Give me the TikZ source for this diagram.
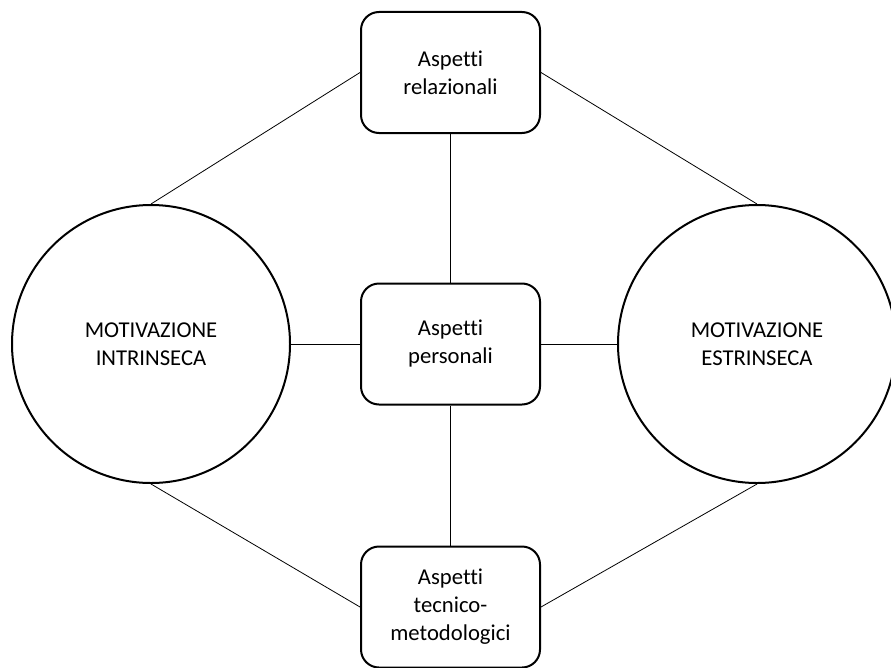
\documentclass[tikz,border=0pt]{standalone}
\usepackage{fontspec}
\setmainfont[Ligatures={NoCommon,NoRare}]{Carlito}
\begin{document}
\begin{tikzpicture}[x=0.75pt,y=-0.75pt,
  every node/.style={font=\fontsize{17}{21}\selectfont, align=center, inner sep=0pt},
  aspbox/.style={draw, line width=1.5pt, rounded corners=13.5pt,
    minimum width=134.25pt, minimum height=90.75pt},
  motcircle/.style={draw, circle, line width=1.5pt, minimum size=208.5pt},
  link/.style={line width=0.6pt}]
\useasboundingbox (0,0) rectangle (891,667);
\clip (0,0) rectangle (891,667);

% the two motivation circles
\node[motcircle] (L) at (151,344) {MOTIVAZIONE\\INTRINSECA};
\node[motcircle] (R) at (757,344) {MOTIVAZIONE\\ESTRINSECA};

% the three aspect boxes
\node[aspbox] (T) at (450.5,72.5) {Aspetti\\relazionali};
\node[aspbox] (C) at (450.5,344) {Aspetti\\personali};
\node[aspbox] (B) at (450.5,607) {Aspetti\\tecnico-\\metodologici};

% connectors
\draw[link] (T.south) -- (C.north);
\draw[link] (C.south) -- (B.north);
\draw[link] (L.east) -- (C.west);
\draw[link] (C.east) -- (R.west);
\draw[link] (T.west) -- (L.north);
\draw[link] (T.east) -- (R.north);
\draw[link] (B.west) -- (L.south);
\draw[link] (B.east) -- (R.south);
\end{tikzpicture}
\end{document}
